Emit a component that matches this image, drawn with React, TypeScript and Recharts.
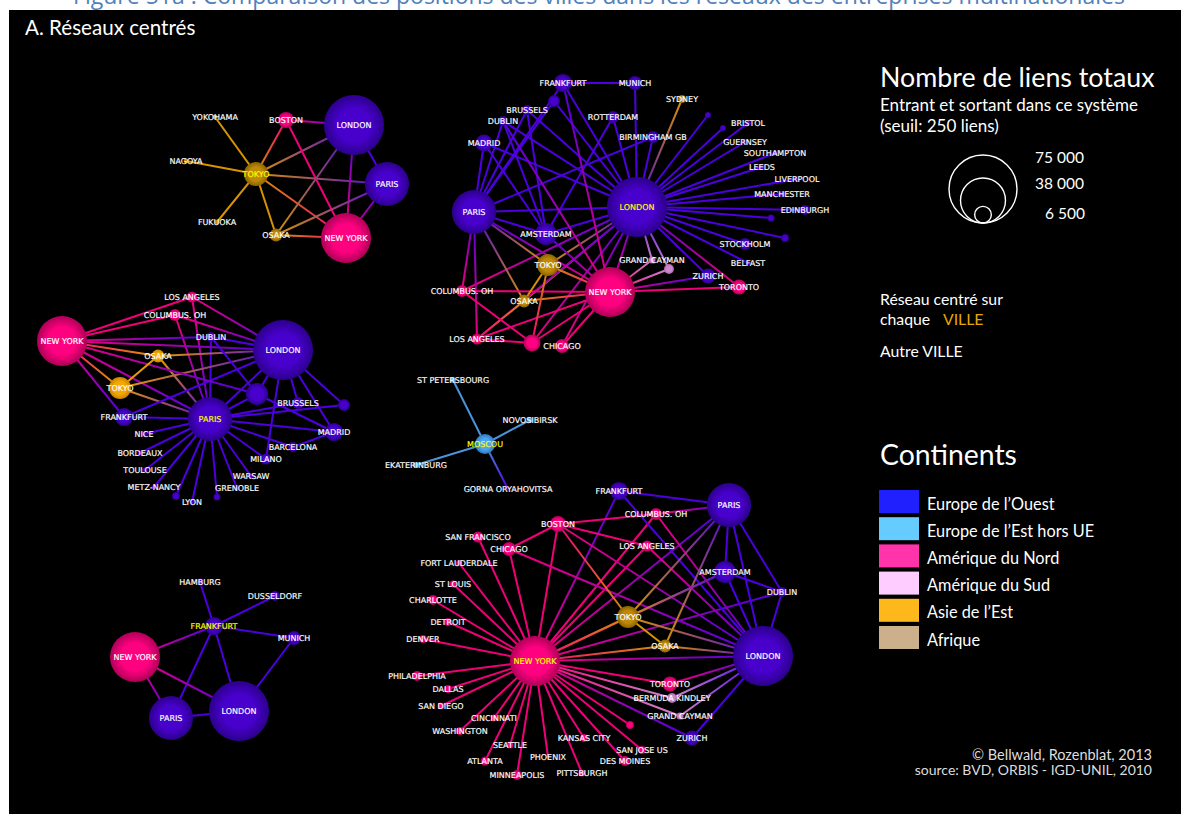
import { ScatterChart, Scatter, XAxis, YAxis, ZAxis } from 'recharts';

type Row = [string, number, number, number, string];
type Links = [string, string[]][];

// name, x, y, total links (estimated), continent. Names starting with _ have no printed label.
const tokyoNodes: Row[] = [
  ['YOKOHAMA', 215, 117, 400, 'asia'],
  ['NAGOYA', 186, 161, 400, 'asia'],
  ['FUKUOKA', 217, 222, 400, 'asia'],
  ['TOKYO', 256, 174, 9400, 'asia'],
  ['BOSTON', 286, 120, 4200, 'na'],
  ['OSAKA', 276, 235, 2700, 'asia'],
  ['LONDON', 354, 125, 58500, 'eu'],
  ['PARIS', 387, 184, 31500, 'eu'],
  ['NEW YORK', 346, 238, 40600, 'na'],
];
const tokyoLinks: Links = [
  ['TOKYO', ['YOKOHAMA', 'NAGOYA', 'FUKUOKA', 'OSAKA', 'BOSTON', 'LONDON', 'PARIS', 'NEW YORK']],
  ['BOSTON', ['LONDON', 'NEW YORK']],
  ['LONDON', ['PARIS', 'NEW YORK', 'OSAKA']],
  ['PARIS', ['NEW YORK', 'OSAKA']],
  ['NEW YORK', ['OSAKA']],
];

const londonNodes: Row[] = [
  ['FRANKFURT', 563, 83, 5300, 'eu'],
  ['MUNICH', 635, 83, 3200, 'eu'],
  ['_a', 554, 101, 2300, 'eu'],
  ['SYDNEY', 682, 99, 1000, 'asia'],
  ['_b', 708, 115, 600, 'eu'],
  ['_c', 723, 128, 600, 'eu'],
  ['BRISTOL', 748, 123, 600, 'eu'],
  ['GUERNSEY', 745, 142, 500, 'eu'],
  ['SOUTHAMPTON', 775, 153, 500, 'eu'],
  ['LEEDS', 762, 167, 600, 'eu'],
  ['LIVERPOOL', 797, 179, 500, 'eu'],
  ['MANCHESTER', 782, 194, 600, 'eu'],
  ['EDINBURGH', 805, 210, 1600, 'eu'],
  ['_d', 771, 218, 800, 'eu'],
  ['_e', 785, 238, 1000, 'eu'],
  ['STOCKHOLM', 745, 244, 2300, 'eu'],
  ['BELFAST', 748, 263, 400, 'eu'],
  ['ZURICH', 708, 276, 3700, 'eu'],
  ['TORONTO', 739, 287, 3700, 'na'],
  ['GRAND CAYMAN', 652, 260, 800, 'sa'],
  ['_f', 669, 269, 1600, 'sa'],
  ['MADRID', 484, 143, 4700, 'eu'],
  ['DUBLIN', 503, 121, 1600, 'eu'],
  ['BRUSSELS', 527, 110, 1600, 'eu'],
  ['ROTTERDAM', 613, 117, 2300, 'eu'],
  ['BIRMINGHAM GB', 653, 137, 2300, 'eu'],
  ['AMSTERDAM', 546, 234, 7900, 'eu'],
  ['COLUMBUS. OH', 462, 291, 2300, 'na'],
  ['LOS ANGELES', 477, 339, 2000, 'na'],
  ['_g', 532, 343, 4700, 'na'],
  ['CHICAGO', 562, 346, 3200, 'na'],
  ['OSAKA', 524, 301, 2700, 'asia'],
  ['TOKYO', 548, 265, 7900, 'asia'],
  ['PARIS', 474, 212, 31500, 'eu'],
  ['NEW YORK', 610, 292, 40600, 'na'],
  ['LONDON', 637, 207, 58500, 'eu'],
];
const londonLinks: Links = [
  ['LONDON', ['FRANKFURT', 'MUNICH', '_a', 'SYDNEY', '_b', '_c', 'BRISTOL', 'GUERNSEY', 'SOUTHAMPTON', 'LEEDS', 'LIVERPOOL', 'MANCHESTER', 'EDINBURGH', '_d', '_e', 'STOCKHOLM', 'BELFAST', 'ZURICH', 'TORONTO', 'GRAND CAYMAN', '_f', 'PARIS', 'NEW YORK', 'TOKYO', 'OSAKA', 'AMSTERDAM', 'COLUMBUS. OH', 'LOS ANGELES', '_g', 'CHICAGO', 'MADRID', 'DUBLIN', 'BRUSSELS', 'ROTTERDAM', 'BIRMINGHAM GB']],
  ['PARIS', ['FRANKFURT', '_a', 'MADRID', 'DUBLIN', 'BRUSSELS', 'BIRMINGHAM GB', 'AMSTERDAM', 'NEW YORK', 'TOKYO', 'OSAKA', 'COLUMBUS. OH', 'LOS ANGELES']],
  ['AMSTERDAM', ['MADRID', 'DUBLIN', 'BRUSSELS', 'ROTTERDAM', 'NEW YORK']],
  ['NEW YORK', ['FRANKFURT', 'DUBLIN', 'ZURICH', 'TORONTO', 'GRAND CAYMAN', '_f', 'TOKYO', 'OSAKA', 'COLUMBUS. OH', 'LOS ANGELES', '_g', 'CHICAGO']],
  ['TOKYO', ['OSAKA', '_g']],
  ['OSAKA', ['LOS ANGELES']],
  ['COLUMBUS. OH', ['_g']],
  ['LOS ANGELES', ['_g']],
  ['FRANKFURT', ['MUNICH']],
];

const parisNodes: Row[] = [
  ['LOS ANGELES', 192, 297, 2000, 'na'],
  ['COLUMBUS. OH', 175, 315, 2300, 'na'],
  ['DUBLIN', 211, 337, 1600, 'eu'],
  ['OSAKA', 158, 356, 2700, 'asiaBright'],
  ['TOKYO', 120, 388, 7900, 'asiaBright'],
  ['_a', 257, 394, 7900, 'eu'],
  ['BRUSSELS', 298, 403, 2300, 'eu'],
  ['_b', 344, 405, 2300, 'eu'],
  ['MADRID', 334, 432, 5300, 'eu'],
  ['BARCELONA', 293, 447, 1600, 'eu'],
  ['MILANO', 266, 459, 2000, 'eu'],
  ['WARSAW', 251, 476, 600, 'eu'],
  ['GRENOBLE', 237, 488, 600, 'eu'],
  ['_c', 217, 497, 800, 'eu'],
  ['LYON', 192, 502, 600, 'eu'],
  ['_d', 176, 496, 1000, 'eu'],
  ['METZ-NANCY', 154, 487, 500, 'eu'],
  ['TOULOUSE', 145, 470, 500, 'eu'],
  ['BORDEAUX', 140, 453, 500, 'eu'],
  ['NICE', 144, 434, 500, 'eu'],
  ['FRANKFURT', 124, 417, 5300, 'eu'],
  ['NEW YORK', 62, 341, 40600, 'na'],
  ['LONDON', 283, 350, 58500, 'eu'],
  ['PARIS', 210, 419, 31500, 'eu'],
];
const parisLinks: Links = [
  ['PARIS', ['NEW YORK', 'LONDON', 'TOKYO', 'OSAKA', 'LOS ANGELES', 'COLUMBUS. OH', 'DUBLIN', '_a', 'BRUSSELS', '_b', 'MADRID', 'BARCELONA', 'MILANO', 'WARSAW', 'GRENOBLE', '_c', 'LYON', '_d', 'METZ-NANCY', 'TOULOUSE', 'BORDEAUX', 'NICE', 'FRANKFURT']],
  ['LONDON', ['NEW YORK', 'LOS ANGELES', 'COLUMBUS. OH', 'DUBLIN', 'OSAKA', 'TOKYO', 'FRANKFURT', '_a', 'BRUSSELS', '_b', 'MADRID', 'MILANO']],
  ['NEW YORK', ['LOS ANGELES', 'COLUMBUS. OH', 'DUBLIN', 'OSAKA', 'TOKYO', 'FRANKFURT', '_a']],
  ['TOKYO', ['OSAKA']],
  ['DUBLIN', ['_a']],
  ['_a', ['MADRID']],
  ['MADRID', ['BARCELONA']],
];

const frankfurtNodes: Row[] = [
  ['HAMBURG', 200, 582, 800, 'eu'],
  ['DUSSELDORF', 275, 596, 1600, 'eu'],
  ['FRANKFURT', 214, 626, 5300, 'eu'],
  ['MUNICH', 294, 638, 3200, 'eu'],
  ['NEW YORK', 135, 657, 40600, 'na'],
  ['PARIS', 171, 718, 31500, 'eu'],
  ['LONDON', 239, 711, 58500, 'eu'],
];
const frankfurtLinks: Links = [
  ['FRANKFURT', ['HAMBURG', 'DUSSELDORF', 'MUNICH', 'NEW YORK', 'PARIS', 'LONDON']],
  ['NEW YORK', ['PARIS', 'LONDON']],
  ['PARIS', ['LONDON']],
  ['LONDON', ['MUNICH']],
];

const moscowNodes: Row[] = [
  ['ST PETERSBOURG', 453, 380, 600, 'east'],
  ['NOVOSIBIRSK', 530, 420, 600, 'east'],
  ['EKATERINBURG', 416, 465, 600, 'east'],
  ['GORNA ORYAHOVITSA', 508, 489, 260, 'eu'],
  ['MOSCOU', 485, 444, 6500, 'east'],
];
const moscowLinks: Links = [['MOSCOU', ['ST PETERSBOURG', 'NOVOSIBIRSK', 'EKATERINBURG', 'GORNA ORYAHOVITSA']]];

const newYorkNodes: Row[] = [
  ['FRANKFURT', 619, 491, 5300, 'eu'],
  ['COLUMBUS. OH', 656, 514, 2300, 'na'],
  ['BOSTON', 558, 524, 4200, 'na'],
  ['LOS ANGELES', 647, 546, 2000, 'na'],
  ['AMSTERDAM', 725, 572, 7900, 'eu'],
  ['DUBLIN', 782, 592, 1600, 'eu'],
  ['OSAKA', 665, 646, 2700, 'asia'],
  ['TOKYO', 628, 617, 7900, 'asia'],
  ['CHICAGO', 509, 549, 3200, 'na'],
  ['SAN FRANCISCO', 478, 537, 2000, 'na'],
  ['FORT LAUDERDALE', 459, 563, 600, 'na'],
  ['ST LOUIS', 453, 584, 800, 'na'],
  ['CHARLOTTE', 433, 600, 1600, 'na'],
  ['DETROIT', 448, 622, 1000, 'na'],
  ['DENVER', 423, 639, 1000, 'na'],
  ['PHILADELPHIA', 417, 676, 1600, 'na'],
  ['DALLAS', 448, 689, 1000, 'na'],
  ['SAN DIEGO', 441, 706, 800, 'na'],
  ['CINCINNATI', 494, 718, 800, 'na'],
  ['WASHINGTON', 460, 731, 1000, 'na'],
  ['SEATTLE', 510, 745, 800, 'na'],
  ['ATLANTA', 485, 761, 1300, 'na'],
  ['MINNEAPOLIS', 517, 775, 1600, 'na'],
  ['PHOENIX', 548, 757, 150, 'na'],
  ['PITTSBURGH', 582, 773, 800, 'na'],
  ['KANSAS CITY', 584, 738, 1000, 'na'],
  ['DES MOINES', 625, 761, 1600, 'na'],
  ['SAN JOSE US', 642, 750, 1000, 'na'],
  ['_a', 630, 725, 1000, 'na'],
  ['ZURICH', 692, 738, 3700, 'eu'],
  ['GRAND CAYMAN', 680, 716, 800, 'sa'],
  ['BERMUDA KINDLEY', 672, 698, 1600, 'sa'],
  ['TORONTO', 670, 684, 3700, 'na'],
  ['PARIS', 729, 505, 31500, 'eu'],
  ['LONDON', 763, 656, 58500, 'eu'],
  ['NEW YORK', 535, 661, 40600, 'na'],
];
const newYorkLinks: Links = [
  ['NEW YORK', ['FRANKFURT', 'COLUMBUS. OH', 'BOSTON', 'LOS ANGELES', 'AMSTERDAM', 'DUBLIN', 'TOKYO', 'OSAKA', 'CHICAGO', 'SAN FRANCISCO', 'FORT LAUDERDALE', 'ST LOUIS', 'CHARLOTTE', 'DETROIT', 'DENVER', 'PHILADELPHIA', 'DALLAS', 'SAN DIEGO', 'CINCINNATI', 'WASHINGTON', 'SEATTLE', 'ATLANTA', 'MINNEAPOLIS', 'PHOENIX', 'PITTSBURGH', 'KANSAS CITY', 'DES MOINES', 'SAN JOSE US', '_a', 'ZURICH', 'GRAND CAYMAN', 'BERMUDA KINDLEY', 'TORONTO', 'LONDON', 'PARIS']],
  ['LONDON', ['FRANKFURT', 'COLUMBUS. OH', 'BOSTON', 'LOS ANGELES', 'AMSTERDAM', 'DUBLIN', 'TOKYO', 'OSAKA', 'CHICAGO', 'PARIS', 'TORONTO', 'BERMUDA KINDLEY', 'GRAND CAYMAN', 'ZURICH']],
  ['PARIS', ['FRANKFURT', 'COLUMBUS. OH', 'TOKYO', 'OSAKA', 'AMSTERDAM', 'DUBLIN']],
  ['BOSTON', ['COLUMBUS. OH', 'LOS ANGELES', 'CHICAGO', 'TOKYO']],
  ['AMSTERDAM', ['DUBLIN', 'TOKYO']],
  ['TOKYO', ['OSAKA']],
];

const networks: { hub: string; rows: Row[]; links: Links }[] = [
  { hub: 'TOKYO', rows: tokyoNodes, links: tokyoLinks },
  { hub: 'LONDON', rows: londonNodes, links: londonLinks },
  { hub: 'PARIS', rows: parisNodes, links: parisLinks },
  { hub: 'FRANKFURT', rows: frankfurtNodes, links: frankfurtLinks },
  { hub: 'MOSCOU', rows: moscowNodes, links: moscowLinks },
  { hub: 'NEW YORK', rows: newYorkNodes, links: newYorkLinks },
];

// the printed circles are a bit smaller than their values on the node scale
const sizeLegend = [
  { x: 983, y: 189, links: 75000 },
  { x: 983, y: 200.5, links: 32800 },
  { x: 983, y: 214.7, links: 4500 },
];
const sizeLabels = ['75 000', '38 000', '6 500'];
const continentNames = ["Europe de l’Ouest", "Europe de l’Est hors UE", 'Amérique du Nord', 'Amérique du Sud', "Asie de l’Est", 'Afrique'];
const continentSwatches = ['#2020ff', '#66ccff', '#ff33aa', '#ffccff', '#ffb81c', '#ccb08c'];

const nodeColors: Record<string, [string, string]> = {
  eu: ['#4800cc', '#2c008c'],
  east: ['#4ca4ee', '#2f78bc'],
  na: ['#ff0080', '#b00058'],
  sa: ['#cc88cc', '#a868a8'],
  asia: ['#c08a08', '#8a6200'],
  asiaBright: ['#f5a800', '#c88400'],
};
const linkColors: Record<string, string> = {
  eu: '#4c00e0',
  east: '#4a94dc',
  na: '#f00078',
  sa: '#cc88cc',
  asia: '#d89400',
  asiaBright: '#e89c00',
};

const W = 1181;
const H = 814;
const SANS = 'Lato, sans-serif';

const nodeData = networks.map((net) =>
  net.rows.map(([name, x, y, links, cont]) => ({ name, x, y, links, cont, hub: name === net.hub }))
);
const linkData = networks.flatMap((net, i) =>
  net.links.flatMap(([from, targets]) =>
    targets.map((to) => {
      const a = nodeData[i].find((n) => n.name === from)!;
      const b = nodeData[i].find((n) => n.name === to)!;
      return { a, b };
    })
  )
);

const NodeShape = (p: any) => (
  <circle cx={p.cx} cy={p.cy} r={p.width / 2} fill={`url(#node-${p.payload.cont})`} />
);
const RingShape = (p: any) => (
  <circle cx={p.cx} cy={p.cy} r={p.width / 2} fill="none" stroke="#fff" strokeWidth={1.4} />
);
const LabelShape = (p: any) =>
  p.payload.name.startsWith('_') ? (
    <g />
  ) : (
    <text
      x={p.cx}
      y={p.cy + 3}
      textAnchor="middle"
      fontFamily="DejaVu Sans"
      fontSize={8}
      textRendering="geometricPrecision"
      stroke={p.payload.hub ? '#ffff00' : '#fff'}
      strokeWidth={0.15}
      fill={p.payload.hub ? '#ffff00' : '#fff'}
    >
      {p.payload.name}
    </text>
  );
const NoShape = () => <g />;

const Txt = ({ x, y, size, children, anchor, fill }: any) => (
  <text x={x} y={y} fontFamily={SANS} fontSize={size} fill={fill || '#fff'} textAnchor={anchor || 'start'}>
    {children}
  </text>
);

export default function App() {
  return (
    <div style={{ position: 'absolute', left: 0, top: 0, width: W, height: H, overflow: 'hidden', background: '#fff' }}>
      <div style={{ position: 'absolute', left: 9, top: 10, width: W - 9, height: H - 10, background: '#000' }} />
      <ScatterChart
        width={W}
        height={H}
        margin={{ top: 0, right: 0, bottom: 0, left: 0 }}
        style={{ position: 'absolute', left: 0, top: 0 }}
      >
        <defs>
          {Object.entries(nodeColors).map(([k, [c, e]]) => (
            <radialGradient key={k} id={`node-${k}`}>
              <stop offset="0%" stopColor={c} />
              <stop offset="55%" stopColor={c} />
              <stop offset="100%" stopColor={e} />
            </radialGradient>
          ))}
          {linkData.map(({ a, b }, i) => (
            <linearGradient key={i} id={`link-${i}`} gradientUnits="userSpaceOnUse" x1={a.x} y1={a.y} x2={b.x} y2={b.y}>
              <stop offset="0%" stopColor={linkColors[a.cont]} />
              <stop offset="100%" stopColor={linkColors[b.cont]} />
            </linearGradient>
          ))}
        </defs>
        <XAxis type="number" dataKey="x" domain={[0, W]} hide />
        <YAxis type="number" dataKey="y" domain={[0, H]} reversed hide />
        <ZAxis type="number" dataKey="links" domain={[0, 75000]} range={[0, 3632]} />
        {linkData.map(({ a, b }, i) => (
          <Scatter
            key={`l${i}`}
            name={`link${i}`}
            data={[a, b]}
            shape={NoShape}
            line={{ stroke: `url(#link-${i})`, strokeWidth: 2 }}
            isAnimationActive={false}
          />
        ))}
        {nodeData.map((nodes, i) => (
          <Scatter key={`n${i}`} name={`nodes${i}`} data={nodes} shape={NodeShape} isAnimationActive={false} />
        ))}
        {nodeData.map((nodes, i) => (
          <Scatter key={`t${i}`} name={`labels${i}`} data={nodes} shape={LabelShape} isAnimationActive={false} />
        ))}
        <Scatter name="size legend" data={sizeLegend} shape={RingShape} isAnimationActive={false} />

        <text x={599} y={4} textAnchor="middle" fontFamily="Open Sans" fontSize={23} fill="#4f81bd">
          Figure 51a : Comparaison des positions des villes dans les réseaux des entreprises multinationales
        </text>
        <rect x={9} y={10} width={W - 9} height={6} fill="#000" />
        <Txt x={25} y={35} size={20.6}>A. Réseaux centrés</Txt>
        <Txt x={880} y={87} size={26.8}>Nombre de liens totaux</Txt>
        <Txt x={880} y={111} size={17}>Entrant et sortant dans ce système</Txt>
        <Txt x={880} y={132} size={17}>(seuil: 250 liens)</Txt>
        <Txt x={1035} y={163} size={15.5}>{sizeLabels[0]}</Txt>
        <Txt x={1035} y={189} size={15.5}>{sizeLabels[1]}</Txt>
        <Txt x={1045} y={219} size={15.5}>{sizeLabels[2]}</Txt>
        <Txt x={880} y={305} size={15.8}>Réseau centré sur</Txt>
        <Txt x={880} y={325} size={15.8}>chaque</Txt>
        <Txt x={943} y={325} size={15.8} fill="#e6a800">VILLE</Txt>
        <Txt x={880} y={357} size={15.8}>Autre VILLE</Txt>
        <Txt x={880} y={465} size={28.4}>Continents</Txt>
        {continentNames.map((name, i) => (
          <g key={name}>
            <rect x={879} y={490 + i * 27.2} width={40} height={23} fill={continentSwatches[i]} />
            <Txt x={927} y={509.5 + i * 27.2} size={16.3}>{name}</Txt>
          </g>
        ))}
        <Txt x={1152} y={760} size={14.5} anchor="end" fill="#ddd">© Bellwald, Rozenblat, 2013</Txt>
        <Txt x={1152} y={775} size={14} anchor="end" fill="#ddd">source: BVD, ORBIS - IGD-UNIL, 2010</Txt>
      </ScatterChart>
    </div>
  );
}
